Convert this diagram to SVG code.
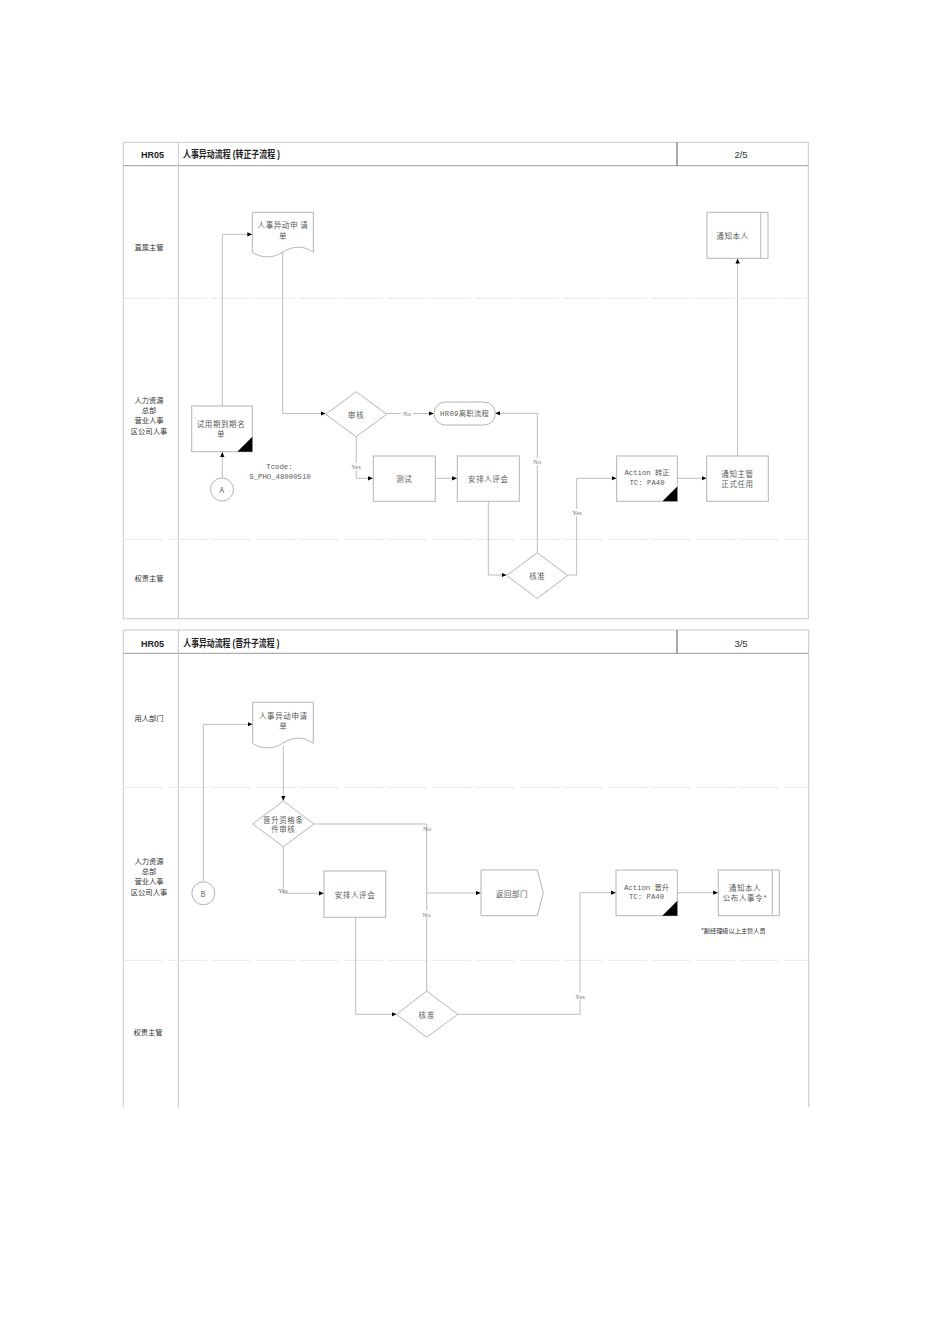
<svg xmlns="http://www.w3.org/2000/svg" width="950" height="1344" viewBox="0 0 950 1344">
<style>
.frame{fill:none;stroke:#c8c8c8;stroke-width:1}
.hdr{fill:none;stroke:#9a9a9a;stroke-width:1}
.div{stroke:#555;stroke-width:1}
.lane{stroke:#e8e8e8;stroke-width:1;stroke-dasharray:40 4}
.node{fill:#fff;stroke:#b4b4b4;stroke-width:1}
.conn{fill:none;stroke:#bdbdbd;stroke-width:1;marker-end:url(#arr)}
.line{fill:none;stroke:#bdbdbd;stroke-width:1}
.tri{fill:#000}
.t{font-family:"Noto Sans CJK SC","Liberation Serif",serif;font-size:7.5px;fill:#5a5a5a;letter-spacing:0.6px;text-anchor:middle;dominant-baseline:central}
.m{font-family:"Liberation Mono","Noto Sans CJK SC",monospace;font-size:7.3px;fill:#5a5a5a;text-anchor:middle;dominant-baseline:central}
.lbl{font-family:"Liberation Serif",serif;font-size:6.5px;fill:#777;text-anchor:middle;dominant-baseline:central}
.lane-t{font-family:"Noto Sans CJK SC",sans-serif;font-size:7.3px;fill:#333;text-anchor:middle;dominant-baseline:central}
.h{font-family:"Liberation Sans","Noto Sans CJK SC",sans-serif;font-weight:bold;fill:#222;dominant-baseline:central}
.pg{font-family:"Liberation Sans",sans-serif;font-size:9.5px;fill:#333;text-anchor:middle;dominant-baseline:central}
.note{font-family:"Noto Sans CJK SC",sans-serif;font-size:6.2px;fill:#333;text-anchor:middle;dominant-baseline:central}
.bg{fill:#fff}
</style>
<defs>
<marker id="arr" viewBox="0 0 6 6" refX="6" refY="3" markerWidth="5" markerHeight="5" orient="auto" markerUnits="userSpaceOnUse">
<path d="M0,0.4 L6,3 L0,5.6 Z" fill="#000"/>
</marker>
</defs>
<rect width="950" height="1344" fill="#fff"/>

<!-- ===== Top frame: 转正子流程 ===== -->
<g id="frame-top">
<rect class="frame" x="123.3" y="142.3" width="685" height="476.4"/>
<line class="hdr" x1="123.3" y1="165.7" x2="808.3" y2="165.7"/>
<line class="frame" x1="178.3" y1="142.3" x2="178.3" y2="618.7"/>
<line class="div" x1="677" y1="142.3" x2="677" y2="165.7"/>
<line class="lane" x1="123.3" y1="298.3" x2="808.3" y2="298.3"/>
<line class="lane" x1="123.3" y1="539.3" x2="808.3" y2="539.3"/>
<text class="h" x="152.6" y="154.5" text-anchor="middle" font-size="9">HR05</text>
<text class="h" x="183" y="154.5" font-size="10" textLength="97" lengthAdjust="spacingAndGlyphs">人事异动流程 (转正子流程 )</text>
<text class="pg" x="741" y="154.5">2/5</text>
<text class="lane-t" x="149" y="246.5">直属主管</text>
<text class="lane-t" x="149" y="399.5">人力资源</text>
<text class="lane-t" x="149" y="409.5">总部</text>
<text class="lane-t" x="149" y="420">营业人事</text>
<text class="lane-t" x="149" y="430.5">区公司人事</text>
<text class="lane-t" x="149" y="578">权责主管</text>
</g>

<g id="connectors-top">
<path class="conn" d="M222.3,478 V452"/>
<path class="conn" d="M222.3,406 V234.3 H252.3"/>
<path class="conn" d="M282.7,251.5 V413.5 H325.5"/>
<path class="conn" d="M386.7,413.5 H433.8"/>
<path class="conn" d="M356.2,436.7 V478.3 H373"/>
<path class="conn" d="M435.3,478.3 H457"/>
<path class="conn" d="M488.3,501.3 V575 H506.5"/>
<path class="conn" d="M537.3,552.7 V413.3 H495.3"/>
<path class="conn" d="M567.7,575 H576.7 V478.3 H616.5"/>
<path class="conn" d="M677.3,478.3 H706.5"/>
<path class="conn" d="M737.6,456 V258.6"/>
<rect class="bg" x="401" y="410" width="12" height="7"/>
<text class="lbl" x="407" y="413.5">No</text>
<rect class="bg" x="349" y="463" width="14" height="7"/>
<text class="lbl" x="356" y="466.5">Yes</text>
<rect class="bg" x="532" y="458" width="11" height="7"/>
<text class="lbl" x="537" y="461.5">No</text>
<rect class="bg" x="570" y="509" width="14" height="7"/>
<text class="lbl" x="577" y="512.5">Yes</text>
</g>

<g id="doc-top">
<path class="node" d="M252.3,212.3 H313.3 V252.3 C303,245 293,246 283,252 C273,258.5 262,258.5 252.3,252.3 Z"/>
<text class="t" x="283" y="224.3">人事异动申 请</text>
<text class="t" x="283" y="235">单</text>
</g>
<g id="notify-self-top">
<rect class="node" x="707" y="212.3" width="61" height="46"/>
<line class="node" x1="760.8" y1="212.3" x2="760.8" y2="258.3"/>
<text class="t" x="732.5" y="235">通知本人</text>
</g>
<g id="trial-list">
<rect class="node" x="191.7" y="406" width="60.6" height="45.7"/>
<path class="tri" d="M252.3,436.7 V451.7 H237.3 Z"/>
<text class="t" x="221" y="423">试用期到期名</text>
<text class="t" x="221" y="433">单</text>
</g>
<g id="conn-a">
<circle class="node" cx="222" cy="489.5" r="11.5"/>
<text class="t" x="222" y="489.5">A</text>
</g>
<g id="tcode">
<text class="m" x="279.5" y="467">Tcode:</text>
<text class="m" x="280" y="477.3">S_PHO_48000510</text>
</g>
<g id="review-top">
<path class="node" d="M325.7,414.3 L356.2,391.7 L386.7,414.3 L356.2,436.7 Z"/>
<text class="t" x="356.2" y="414">审核</text>
</g>
<g id="hr09">
<rect class="node" x="434" y="402" width="61.3" height="23" rx="11.5" ry="11.5"/>
<text class="m" x="464.6" y="413.5" style="letter-spacing:0.3px">HR09离职流程</text>
</g>
<g id="test">
<rect class="node" x="373.3" y="456" width="62" height="45.3"/>
<text class="t" x="404.3" y="478.5">测试</text>
</g>
<g id="eval-top">
<rect class="node" x="457.3" y="456" width="62" height="45.3"/>
<text class="t" x="488.3" y="478.5">安排人评会</text>
</g>
<g id="approve-top">
<path class="node" d="M506.7,575.5 L537.3,552.7 L567.7,575.5 L537.3,598.5 Z"/>
<text class="t" x="537.3" y="575.5">核准</text>
</g>
<g id="action-confirm">
<rect class="node" x="616.7" y="456" width="60.6" height="45.3"/>
<path class="tri" d="M677.3,486.5 V501.3 H662.5 Z"/>
<text class="m" x="647" y="473.3">Action 转正</text>
<text class="m" x="647" y="483">TC: PA40</text>
</g>
<g id="notify-mgr">
<rect class="node" x="706.7" y="456" width="61.6" height="45.3"/>
<text class="t" x="737.5" y="473.3">通知主管</text>
<text class="t" x="737.5" y="483">正式任用</text>
</g>

<!-- ===== Bottom frame: 晋升子流程 ===== -->
<g id="frame-bottom">
<path class="frame" d="M123.3,1107.3 V630 H808.7 V1107.3"/>
<line class="hdr" x1="123.3" y1="653.3" x2="808.7" y2="653.3"/>
<line class="frame" x1="178.3" y1="630" x2="178.3" y2="1107.3"/>
<line class="div" x1="677" y1="630" x2="677" y2="653.3"/>
<line class="lane" x1="123.3" y1="787.3" x2="808.7" y2="787.3"/>
<line class="lane" x1="123.3" y1="960.3" x2="808.7" y2="960.3"/>
<text class="h" x="152.6" y="643.5" text-anchor="middle" font-size="9">HR05</text>
<text class="h" x="183.3" y="643.5" font-size="10" textLength="96" lengthAdjust="spacingAndGlyphs">人事异动流程 (晋升子流程 )</text>
<text class="pg" x="741" y="643">3/5</text>
<text class="lane-t" x="149" y="717.5">用人部门</text>
<text class="lane-t" x="149" y="860.5">人力资源</text>
<text class="lane-t" x="149" y="870.5">总部</text>
<text class="lane-t" x="149" y="881">营业人事</text>
<text class="lane-t" x="149" y="891.5">区公司人事</text>
<text class="lane-t" x="148" y="1032">权责主管</text>
</g>

<g id="connectors-bottom">
<path class="conn" d="M203.3,881.7 V724.3 H252.5"/>
<path class="conn" d="M283.3,746 V800.8"/>
<path class="line" d="M314,824 H426.7 V893"/>
<path class="conn" d="M426.7,991 V893 H480.8"/>
<path class="conn" d="M283.3,846.7 V893.3 H323.8"/>
<path class="conn" d="M355.7,917.3 V1014.3 H396.5"/>
<path class="conn" d="M457.7,1014.3 H580 V892.7 H615.8"/>
<path class="conn" d="M677.3,892.7 H718.1"/>
<text class="lbl" x="427" y="828.5">No</text>
<rect class="bg" x="421" y="910.5" width="11" height="7"/>
<text class="lbl" x="426.5" y="914">No</text>
<text class="lbl" x="283" y="890.5">Yes</text>
<rect class="bg" x="573" y="992.5" width="14" height="7"/>
<text class="lbl" x="580" y="996">Yes</text>
</g>

<g id="doc-bottom">
<path class="node" d="M252.7,702.3 H313.3 V743.3 C303,736 293,737 283,743 C273,749.5 262,749.5 252.7,743.3 Z"/>
<text class="t" x="283.3" y="715">人事异动申请</text>
<text class="t" x="283.3" y="725.7">单</text>
</g>
<g id="promo-check">
<path class="node" d="M252.7,824 L283.3,801 L314,824 L283.3,846.7 Z"/>
<text class="t" x="283.3" y="819.3">晋升资格条</text>
<text class="t" x="283.3" y="828.5">件审核</text>
</g>
<g id="conn-b">
<circle class="node" cx="203.3" cy="893.3" r="11.5"/>
<text class="t" x="203.3" y="893.3">B</text>
</g>
<g id="eval-bottom">
<rect class="node" x="324" y="871" width="61.7" height="46.3"/>
<text class="t" x="355" y="894.3">安排人评会</text>
</g>
<g id="return-dept">
<path class="node" d="M481,870 H537.3 L543.3,892.8 L537.3,915.7 H481 Z"/>
<text class="t" x="512" y="893">返回部门</text>
</g>
<g id="approve-bottom">
<path class="node" d="M396.7,1014.3 L426.7,991 L457.7,1014.3 L426.7,1037.3 Z"/>
<text class="t" x="426.7" y="1014.3">核准</text>
</g>
<g id="action-promo">
<rect class="node" x="616" y="870" width="61.3" height="45.7"/>
<path class="tri" d="M677.3,900.7 V915.7 H662.3 Z"/>
<text class="m" x="646.5" y="887.7">Action 晋升</text>
<text class="m" x="646.5" y="897.3">TC: PA40</text>
</g>
<g id="notify-self-bottom">
<rect class="node" x="718.3" y="870" width="61" height="45.7"/>
<line class="node" x1="772.3" y1="870" x2="772.3" y2="915.7"/>
<text class="t" x="745" y="887.7">通知本人</text>
<text class="t" x="745" y="897.3">公布人事令*</text>
</g>
<g id="note">
<text class="note" x="733.3" y="930">*副经理级以上主管人员</text>
</g>
</svg>
